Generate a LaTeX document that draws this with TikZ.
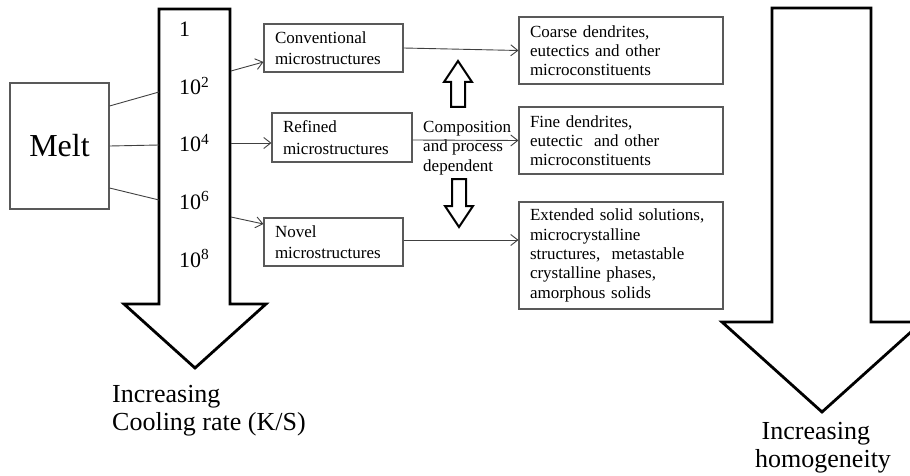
\documentclass[tikz,border=0pt]{standalone}
\usepackage{fontspec}
\setmainfont{Liberation Serif}
\usetikzlibrary{arrows.meta,calc}
\begin{document}
\begin{tikzpicture}[x=1pt,y=-1pt,
  bigarrow/.style={draw=black, line width=2.8pt, line join=miter, fill=white},
  hollow/.style={draw=black, line width=2pt, line join=miter, fill=white},
  box/.style={draw=black!65, line width=1.1pt, fill=white, inner xsep=11pt, inner ysep=0pt, align=left, font=\fontsize{17}{21.5}\selectfont},
  rbox/.style={box, text width=182pt, minimum height=#1, font=\fontsize{17}{19.3}\selectfont},
  link/.style={draw=black!75, line width=0.9pt},
  conn/.style={draw=black!75, line width=0.9pt, -{Straight Barb[length=7pt,width=11pt,line width=0.9pt]}},
  num/.style={anchor=base west, inner sep=0pt, font=\fontsize{22}{24}\selectfont},
  caption/.style={anchor=base west, inner sep=0pt, align=left, font=\fontsize{26}{28}\selectfont}
]
\useasboundingbox (0,0) rectangle (910,476);
\clip (0,0) rectangle (910,476);

% big arrows
\draw[bigarrow] (159,9) -- (230,9) -- (230,304) -- (266,304) -- (195,368) -- (124,304) -- (159,304) -- cycle;
\draw[bigarrow] (772,8) -- (871,8) -- (871,322) -- (922,322) -- (822,412) -- (722,322) -- (772,322) -- cycle;

% points on the cooling-rate arrow shaft
\coordinate (sL1) at (159,92);
\coordinate (sL2) at (159,145);
\coordinate (sL3) at (159,200);
\coordinate (sR1) at (231,71);
\coordinate (sR2) at (231,143);
\coordinate (sR3) at (231,217);

% cooling rate values
\node[num] (n0) at (179,37) {1};
\node[num] (n2) at (179,95) {10\textsuperscript{2}};
\node[num] (n4) at (179,152) {10\textsuperscript{4}};
\node[num] (n6) at (179,209) {10\textsuperscript{6}};
\node[num] (n8) at (179,267) {10\textsuperscript{8}};

% melt
\node[box, minimum width=99pt, minimum height=126pt, align=center, inner xsep=0pt, font=\fontsize{32}{36}\selectfont] (melt) at (59.5,146) {Melt};

% microstructure boxes
\node[box, text width=117pt, minimum height=48pt] (conv) at (333.5,48) {Conventional\\microstructures};
\node[box, text width=118pt, minimum height=49pt] (ref) at (342,137.5) {Refined\\microstructures};
\node[box, text width=117pt, minimum height=48pt] (nov) at (333.5,242) {Novel\\microstructures};

% result boxes
\node[rbox=67pt] (coarse) at (621,50.5) {Coarse dendrites,\\eutectics and other\\microconstituents};
\node[rbox=67pt] (fine) at (621,140.5) {Fine dendrites,\\eutectic\ \ and other\\microconstituents};
\node[rbox=107pt] (ext) at (621,255.5) {Extended solid solutions,\\microcrystalline\\structures,\ \ metastable\\crystalline phases,\\amorphous solids};

% composition label
\node[anchor=west, inner sep=0pt, align=left, font=\fontsize{17}{19.5}\selectfont] (comp) at (423,148) {Composition\\and process\\dependent};

% hollow arrows
\draw[hollow] (451,107) -- (465,107) -- (465,82) -- (472,82) -- (458,61) -- (444,82) -- (451,82) -- cycle;
\draw[hollow] (452,179) -- (466,179) -- (466,206) -- (473,206) -- (459,227) -- (445,206) -- (452,206) -- cycle;

% melt to arrow
\draw[link] ([yshift=40pt]melt.east) -- (sL1);
\draw[link] (melt.east) -- (sL2);
\draw[link] ([yshift=-42pt]melt.east) -- (sL3);

% arrow to boxes
\draw[conn] (sR1) -- ([yshift=-14pt]conv.west);
\draw[conn] (sR2) -- ([yshift=-5.5pt]ref.west);
\draw[conn] (sR3) -- ([yshift=18pt]nov.west);

% boxes to results
\coordinate (novo) at ([yshift=2pt]nov.east);
\draw[conn] (conv.east) -- (coarse.west);
\draw[conn] ([yshift=-2.5pt]ref.east) -- (fine.west);
\draw[conn] (novo) -- (ext.west |- novo);

% captions
\node[caption] (cap1) at (112,430) {Increasing\\Cooling rate (K/S)};
\node[caption] (cap2) at (755,467) {\ Increasing\\homogeneity};
\end{tikzpicture}
\end{document}
